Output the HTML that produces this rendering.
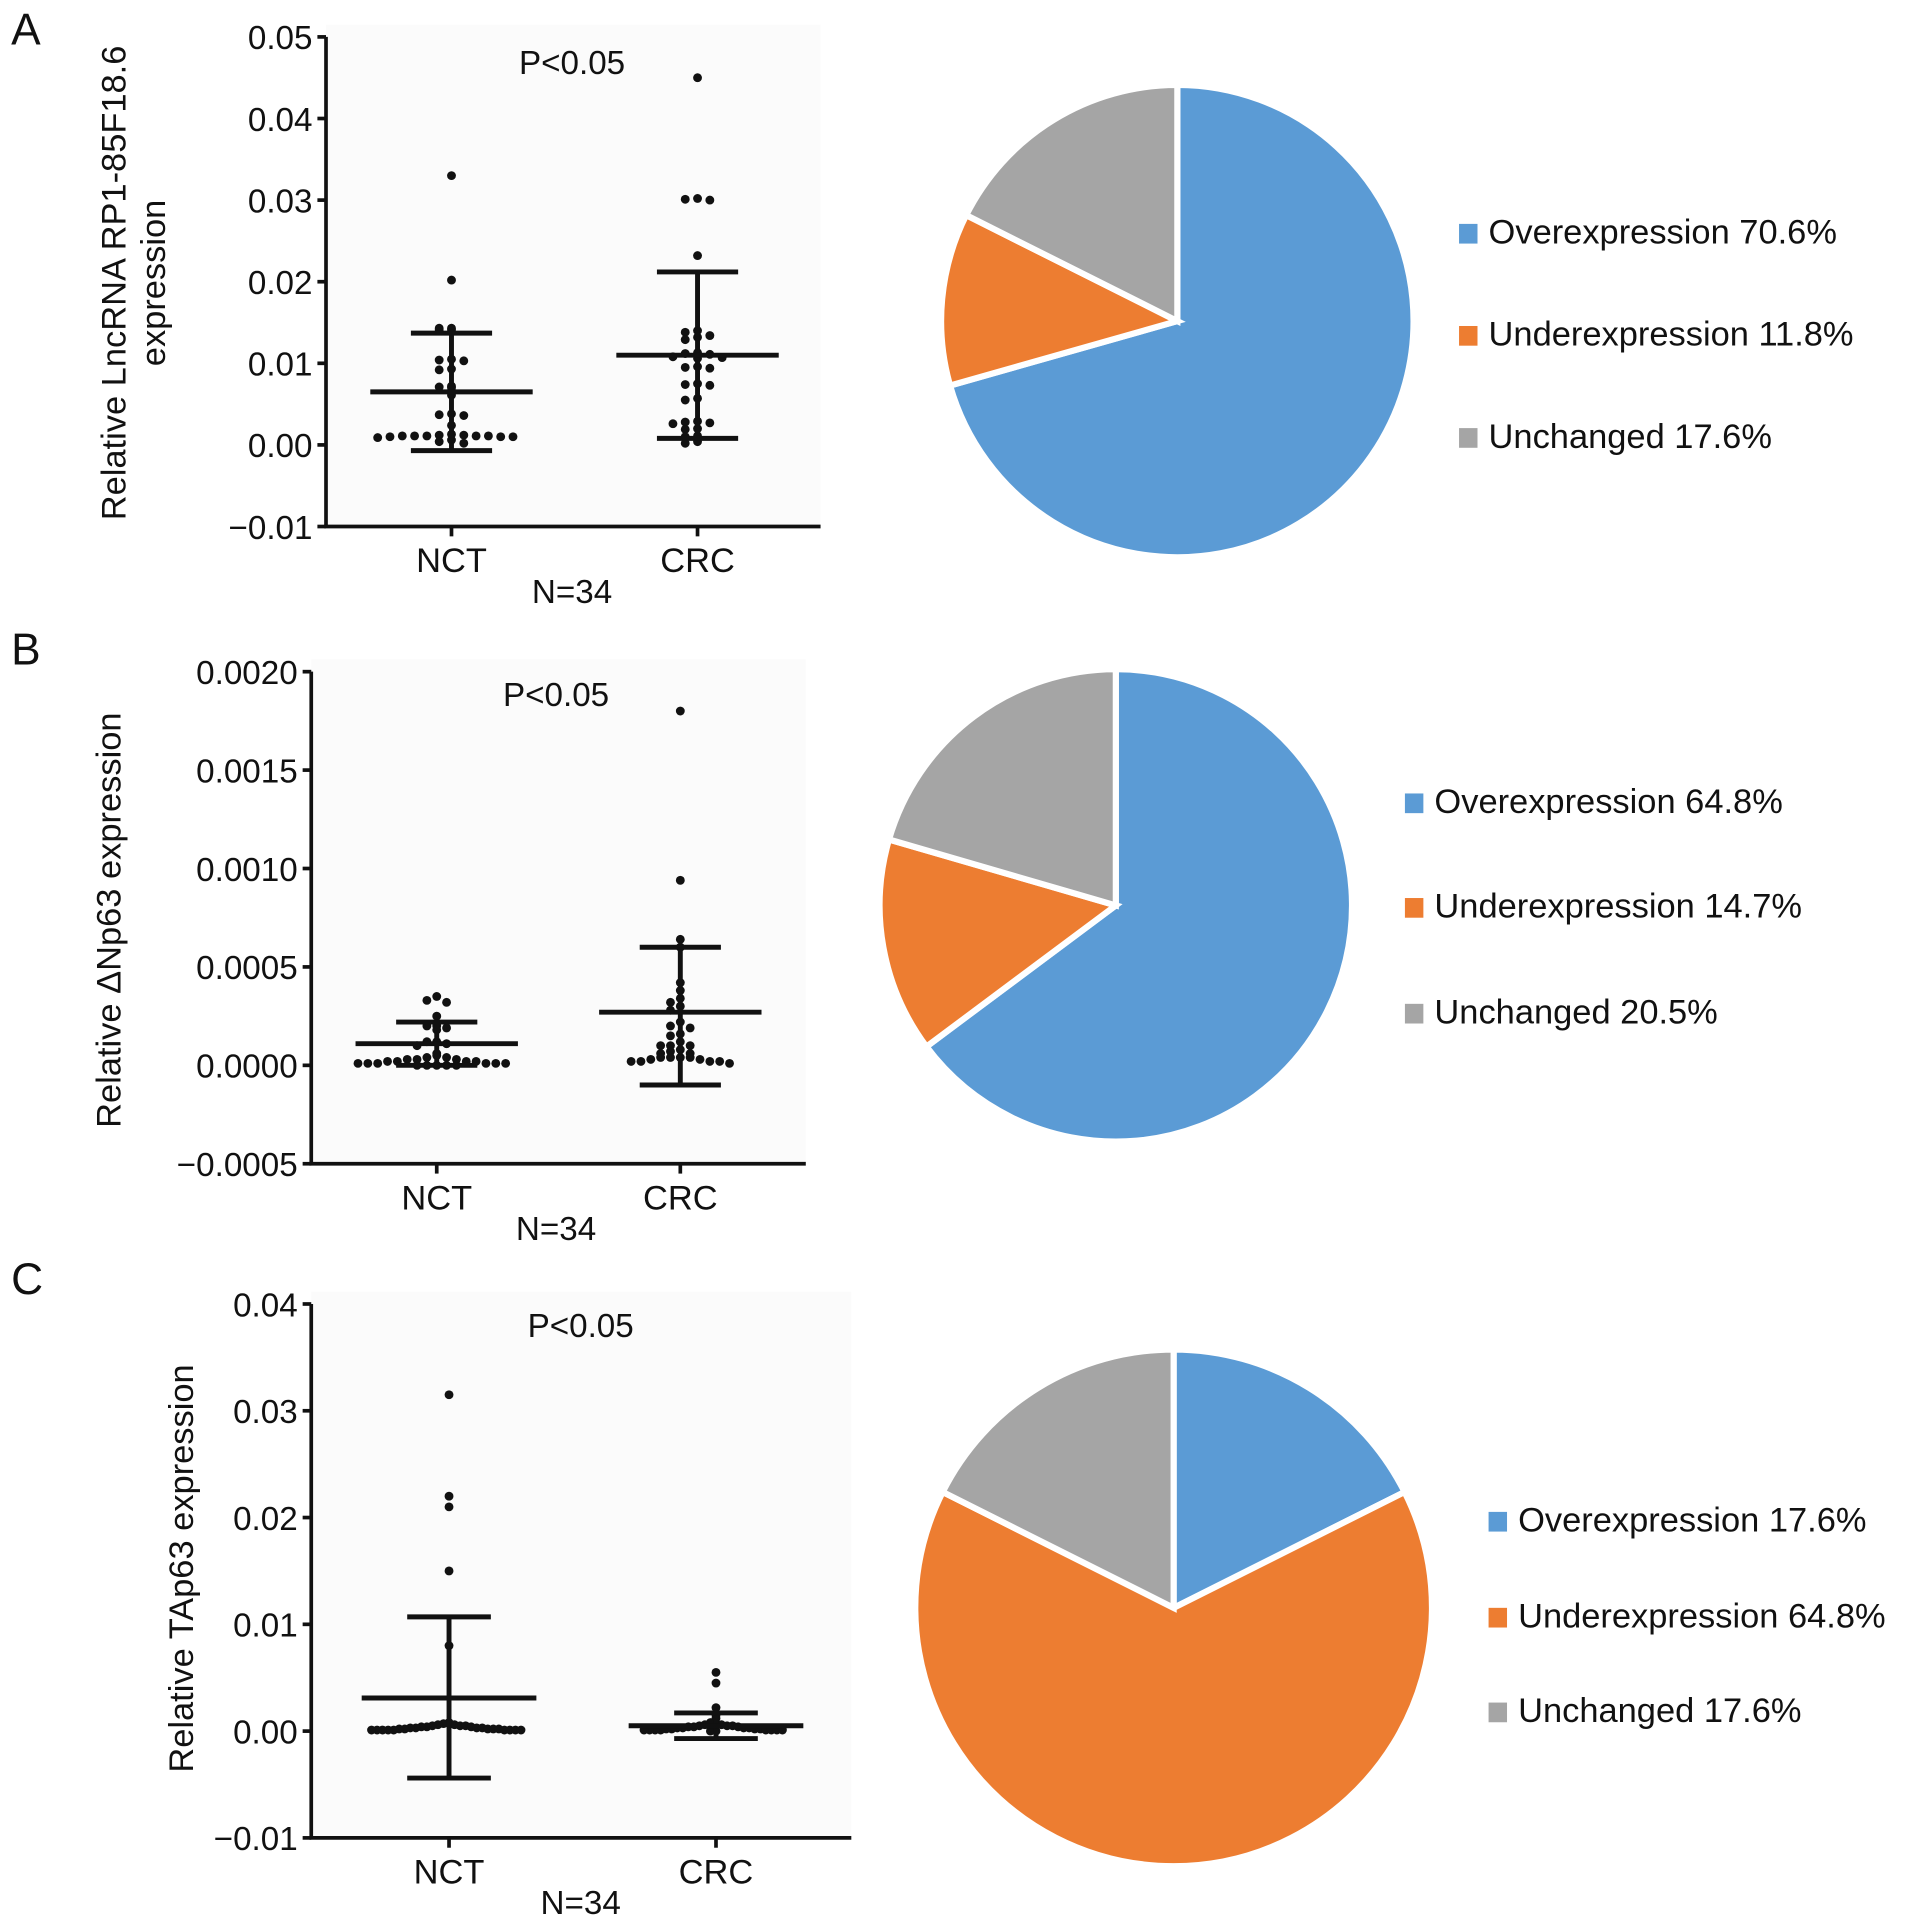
<!DOCTYPE html>
<html><head><meta charset="utf-8">
<style>
html,body{margin:0;padding:0;background:#fff;}
svg{display:block;font-family:"Liberation Sans",sans-serif;}
</style></head>
<body>
<svg id="fig" width="1913" height="1924" viewBox="0 0 1555 1564" preserveAspectRatio="none" xmlns="http://www.w3.org/2000/svg"></svg>
<script>
// ---------- data ----------
const groups = ["NCT", "CRC"];
const aNCT = [0.033,0.0202,0.0143,0.0143,0.0141,0.0141,0.0105,0.0104,0.0103,0.0093,0.0092,0.0072,0.0071,0.007,0.0061,0.0038,0.0037,0.0036,0.0024,0.0013,0.0012,0.0012,0.0011,0.0011,0.0011,0.0011,0.0011,0.001,0.001,0.001,0.0009,0.0006,0.0004,0.0002];
const aCRC = [0.045,0.0302,0.0301,0.03,0.0232,0.014,0.0138,0.0134,0.0132,0.0129,0.0113,0.0112,0.0111,0.0108,0.0107,0.0106,0.0096,0.0095,0.0094,0.0075,0.0074,0.0073,0.0057,0.0055,0.0029,0.0028,0.0027,0.0026,0.002,0.0019,0.0011,0.001,0.0004,0.0002];
const aStats = [[0.0065,-0.0007,0.0137],[0.011,0.0008,0.0212]];
const aTicks = [0.05,0.04,0.03,0.02,0.01,0,-0.01];
const aTickLabels = ["0.05","0.04","0.03","0.02","0.01","0.00","\u22120.01"];

const bNCT = [0.00035,0.00033,0.00032,0.00025,0.0002,0.0002,0.00019,0.00018,0.00012,0.00012,0.00011,0.0001,0.00006,0.00005,0.00004,0.00004,0.00003,0.00003,0.00003,0.00002,0.00002,0.00002,0.00002,0.00001,0.00001,0.00001,0.00001,0.00001,0.00001,0,0,0,0,0];
const bCRC = [0.0018,0.00094,0.00064,0.0006,0.00042,0.00038,0.00034,0.00032,0.0003,0.00028,0.00022,0.0002,0.00019,0.00016,0.00015,0.00012,0.0001,0.0001,0.0001,0.00008,0.00007,0.00006,0.00006,0.00004,0.00004,0.00004,0.00004,0.00003,0.00003,0.00002,0.00002,0.00002,0.00002,0.00001];
const bStats = [[0.00011,0,0.00022],[0.00027,-0.0001,0.0006]];
const bTicks = [0.002,0.0015,0.001,0.0005,0,-0.0005];
const bTickLabels = ["0.0020","0.0015","0.0010","0.0005","0.0000","\u22120.0005"];

const cNCT = [0.0315,0.022,0.021,0.015,0.008,0.0008,0.0007,0.0007,0.0006,0.0006,0.0005,0.0005,0.0005,0.0004,0.0004,0.0004,0.0003,0.0003,0.0003,0.0003,0.0002,0.0002,0.0002,0.0002,0.0002,0.0001,0.0001,0.0001,0.0001,0.0001,0.0001,0.0001,0.0001,0.0001];
const cCRC = [0.0055,0.0045,0.0022,0.0015,0.0012,0.0008,0.0007,0.0007,0.0006,0.0006,0.0005,0.0005,0.0005,0.0004,0.0004,0.0004,0.0003,0.0003,0.0003,0.0003,0.0002,0.0002,0.0002,0.0002,0.0001,0.0001,0.0001,0.0001,0.0001,0.0001,0.0001,0.0001,0,0];
const cStats = [[0.0031,-0.0044,0.0107],[0.0005,-0.0007,0.0017]];
const cTicks = [0.04,0.03,0.02,0.01,0,-0.01];
const cTickLabels = ["0.04","0.03","0.02","0.01","0.00","\u22120.01"];

const pieLabels = ["Overexpression","Underexpression","Unchanged"];
const pieA = [70.6,11.8,17.6];
const pieB = [64.8,14.7,20.5];
const pieC = [17.6,64.8,17.6];
const pieColors = ["#5b9bd5","#ed7d31","#a5a5a5"];

// ---------- helpers ----------
const NS = "http://www.w3.org/2000/svg";
const svg = document.getElementById("fig");
function mk(tag, attrs, parent, text) {
  const e = document.createElementNS(NS, tag);
  for (const k in attrs) e.setAttribute(k, attrs[k]);
  if (text !== undefined) e.textContent = text;
  (parent || svg).appendChild(e);
  return e;
}

function scatter(cfg) {
  const g = mk("g", {});
  
  
  const y = v => cfg.y0 + (cfg.vmax - v) / (cfg.vmax - cfg.vmin) * (cfg.y1 - cfg.y0);
  const bg = mk("rect", {x: cfg.ax, y: cfg.y0 - 10, width: cfg.axEnd - cfg.ax, height: cfg.y1 - cfg.y0 + 10, fill: "#fbfbfb"}, g);
  
  
  const L = mk("text", {x: 9, y: cfg.letterY, "font-size": 36, fill: "#111"}, g, cfg.letter);
  
  
  const ya = mk("line", {x1: cfg.ax, y1: cfg.y0, x2: cfg.ax, y2: cfg.y1, stroke: "#111", "stroke-width": 3}, g);
  
  
  const xa = mk("line", {x1: cfg.ax - 1.5, y1: cfg.y1, x2: cfg.axEnd, y2: cfg.y1, stroke: "#111", "stroke-width": 3}, g);
  
  
  cfg.ticks.forEach((t, i) => {
    const ty = y(t);
    mk("line", {x1: cfg.ax - 7, y1: ty, x2: cfg.ax, y2: ty, stroke: "#111", "stroke-width": 3}, g);
    const tl = mk("text", {x: cfg.ax - 11, y: ty + 10, "font-size": 27, "text-anchor": "end", fill: "#111"}, g, cfg.tickLabels[i]);
    
    
  });
  const tg = mk("text", {transform: `translate(${cfg.titleX},${cfg.titleY}) rotate(-90)`, "font-size": 28, "text-anchor": "middle", fill: "#111"}, g);
  
  
  cfg.title.forEach((line, i) => mk("tspan", {x: 0, dy: i === 0 ? 0 : 32}, tg, line));
  [cfg.d0, cfg.d1].forEach((vals, gi) => {
    const cx = cfg.gx[gi];
    mk("line", {x1: cx, y1: cfg.y1, x2: cx, y2: cfg.y1 + 8, stroke: "#111", "stroke-width": 3}, g);
    const xl = mk("text", {x: cx, y: cfg.y1 + 37, "font-size": 28, "text-anchor": "middle", fill: "#111"}, g, groups[gi]);
    
    
    const rows = {};
    vals.forEach(v => {
      const py = y(v);
      const key = Math.round(py / cfg.rowH);
      rows[key] = rows[key] || [];
      const idx = rows[key].length;
      rows[key].push(v);
      const off = idx === 0 ? 0 : Math.ceil(idx / 2) * cfg.dx * (idx % 2 ? -1 : 1);
      const c = mk("circle", {cx: cx + off, cy: py, r: 3.6, fill: "#111"}, g);
      
      
    });
    const [m, lo, hi] = cfg.stats[gi];
    const eb = mk("g", {stroke: "#111", "stroke-width": 4}, g);
    
    
    mk("line", {x1: cx, y1: y(lo), x2: cx, y2: y(hi)}, eb);
    mk("line", {x1: cx - cfg.meanW, y1: y(m), x2: cx + cfg.meanW, y2: y(m)}, eb);
    mk("line", {x1: cx - cfg.capW, y1: y(lo), x2: cx + cfg.capW, y2: y(lo)}, eb);
    mk("line", {x1: cx - cfg.capW, y1: y(hi), x2: cx + cfg.capW, y2: y(hi)}, eb);
  });
  const p = mk("text", {x: cfg.pX, y: cfg.pY, "font-size": 27, "text-anchor": "middle", fill: "#111"}, g, "P<0.05");
  
  
  const n = mk("text", {x: cfg.pX, y: cfg.y1 + 62, "font-size": 27, "text-anchor": "middle", fill: "#111"}, g, "N=34");
  
  
}

function pie(cfg) {
  const g = mk("g", {});
  
  
  const total = cfg.vals.reduce((a, b) => a + b, 0);
  let a0 = -Math.PI / 2;
  cfg.vals.forEach((v, i) => {
    const a1 = a0 + v / total * 2 * Math.PI;
    const large = (a1 - a0) > Math.PI ? 1 : 0;
    const x0 = cfg.cx + cfg.r * Math.cos(a0), y0 = cfg.cy + cfg.r * Math.sin(a0);
    const x1 = cfg.cx + cfg.r * Math.cos(a1), y1 = cfg.cy + cfg.r * Math.sin(a1);
    const s = mk("path", {d: `M${cfg.cx},${cfg.cy} L${x0},${y0} A${cfg.r},${cfg.r} 0 ${large} 1 ${x1},${y1} Z`, fill: pieColors[i], stroke: "#fff", "stroke-width": 5, "stroke-linejoin": "miter"}, g);
    
    
    a0 = a1;
  });
  cfg.vals.forEach((v, i) => {
    const ly = cfg.ly[i];
    const le = mk("g", {}, g);
    
    
    mk("rect", {x: cfg.lx, y: ly - 16, width: 15, height: 16, fill: pieColors[i]}, le);
    mk("text", {x: cfg.lx + 24, y: ly, "font-size": 28, fill: "#111"}, le, pieLabels[i] + " " + v.toFixed(1) + "%");
  });
}

// ---------- draw ----------
scatter({name: "scatter-panel-a", letter: "A", letterY: 36, d0: aNCT, d1: aCRC, stats: aStats,
  ticks: aTicks, tickLabels: aTickLabels, vmax: 0.05, vmin: -0.01, y0: 30, y1: 428, ax: 265, axEnd: 667,
  gx: [367, 567], title: ["Relative LncRNA RP1-85F18.6", "expression"], titleX: 102, titleY: 230,
  pX: 465, pY: 60, meanW: 66, capW: 33, rowH: 6, dx: 10});
scatter({name: "scatter-panel-b", letter: "B", letterY: 540, d0: bNCT, d1: bCRC, stats: bStats,
  ticks: bTicks, tickLabels: bTickLabels, vmax: 0.002, vmin: -0.0005, y0: 546, y1: 946, ax: 253, axEnd: 655,
  gx: [355, 553], title: ["Relative \u0394Np63 expression"], titleX: 98, titleY: 748,
  pX: 452, pY: 574, meanW: 66, capW: 33, rowH: 7, dx: 8});
scatter({name: "scatter-panel-c", letter: "C", letterY: 1052, d0: cNCT, d1: cCRC, stats: cStats,
  ticks: cTicks, tickLabels: cTickLabels, vmax: 0.04, vmin: -0.01, y0: 1060, y1: 1494, ax: 253, axEnd: 692,
  gx: [365, 582], title: ["Relative TAp63 expression"], titleX: 157, titleY: 1275,
  pX: 472, pY: 1087, meanW: 71, capW: 34, rowH: 6, dx: 4.5});

pie({name: "pie-chart-a", vals: pieA, cx: 957, cy: 261, r: 192, lx: 1186, ly: [198, 281, 364]});
pie({name: "pie-chart-b", vals: pieB, cx: 907, cy: 736, r: 192, lx: 1142, ly: [661, 746, 832]});
pie({name: "pie-chart-c", vals: pieC, cx: 954, cy: 1307, r: 210, lx: 1210, ly: [1245, 1323, 1400]});
</script>
</body></html>
